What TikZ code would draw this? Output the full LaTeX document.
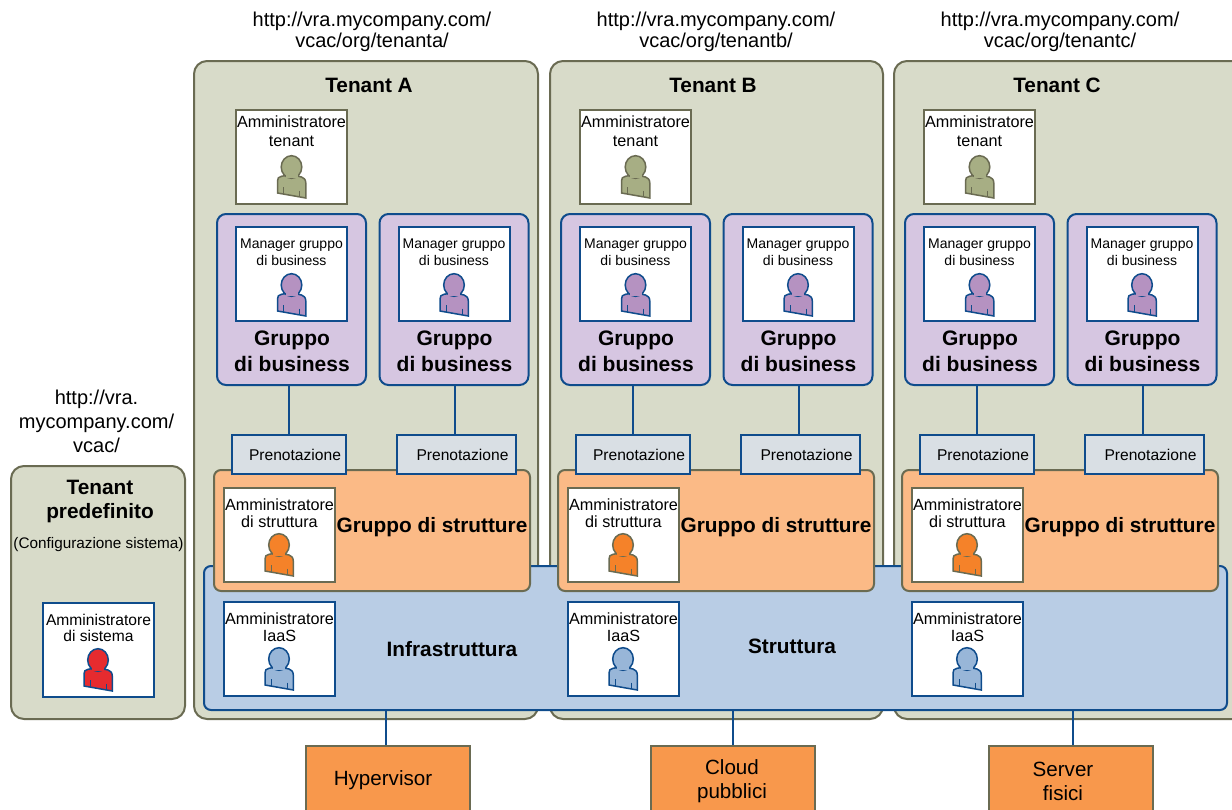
\documentclass[tikz,border=0pt]{standalone}
\usepackage{fontspec}
\setmainfont{Liberation Sans}
\usetikzlibrary{
  positioning,
  arrows
}
\definecolor{tenantfill}{HTML}{D8DBC9}
\definecolor{tenantline}{HTML}{6A6B52}
\definecolor{navyline}{HTML}{0F4C8C}
\definecolor{groupfill}{HTML}{D6C6E1}
\definecolor{resfill}{HTML}{D9DFE4}
\definecolor{facfill}{HTML}{FBBA86}
\definecolor{infrafill}{HTML}{B9CDE5}
\definecolor{hostfill}{HTML}{F8984C}
\definecolor{tenantperson}{HTML}{A7AE84}
\definecolor{mgrperson}{HTML}{B592C1}
\definecolor{facperson}{HTML}{F58229}
\definecolor{iaasperson}{HTML}{98B6D8}
\definecolor{sysperson}{HTML}{E62B2F}
\newcommand{\sizedfont}[2]{\fontsize{#1}{#2}\selectfont}
\tikzset{
  tenantbox/.style = {draw=tenantline, fill=tenantfill, line width=2pt, rounded corners=13pt},
  groupbox/.style = {draw=navyline, fill=groupfill, line width=2pt, rounded corners=9pt,
    minimum width=149pt, minimum height=171pt},
  facbox/.style = {draw=tenantline, fill=facfill, line width=2pt, rounded corners=7pt,
    minimum width=316pt, minimum height=121pt},
  infrabox/.style = {draw=navyline, fill=infrafill, line width=2pt, rounded corners=7pt},
  resbox/.style = {draw=navyline, fill=resfill, line width=2pt, minimum height=39pt,
    inner sep=0pt, font=\sizedfont{15.6}{18}},
  hostbox/.style = {draw=tenantline, fill=hostfill, line width=2pt, minimum width=164pt,
    minimum height=90pt},
  rolebox/.style = {draw=#1, fill=white, line width=2pt, minimum width=111pt, minimum height=94pt},
  roletext/.style = {anchor=north, align=center, inner sep=0pt, font=\sizedfont{16.2}{17.5}},
  mgrtext/.style = {anchor=north, align=center, inner sep=0pt, font=\sizedfont{14}{17}},
  titletext/.style = {align=center, inner sep=0pt, font=\sizedfont{20.8}{24}\bfseries},
  urltext/.style = {align=center, inner sep=0pt, font=\sizedfont{20}{21}},
  hosttext/.style = {align=center, inner sep=0pt, font=\sizedfont{20.6}{24}},
  navywire/.style = {draw=navyline, line width=2pt},
  person/.pic = {
    \path[draw=#1, line width=1.5pt, pic actions]
      (-6.7,7.7) -- (-10,8.3) .. controls (-13,9) and (-14,10) .. (-14,13) -- (-14,25) -- (14.3,30)
      -- (14.3,15) .. controls (14.3,11) and (12,10) .. (10,9) -- (6.7,8.3) -- cycle;
    \path[draw=#1, line width=1.5pt, pic actions] (0,-1) ellipse (10.3 and 11.3);
    \path[pic actions, draw=none] (-6,6) rectangle (6,10);
    \draw[#1, line width=.7pt] (-8,19) -- (-8,26) (8,22.7) -- (8,28.7);
  }
}

\begin{document}
\begin{tikzpicture}[x=1pt, y=-1pt]
  \useasboundingbox (0,0) rectangle (1232,809);
  \clip (0,0) rectangle (1232,809);

  % tenants behind everything
  \draw[tenantbox] (11,466) rectangle (185,719);
  \draw[tenantbox] (194,61) rectangle (538,719);
  \draw[tenantbox] (550,61) rectangle (883,719);
  \draw[tenantbox] (894,61) rectangle (1250,719);

  \draw[infrabox] (204,566) rectangle (1227,710);

  \node[hostbox, anchor=north] (hypervisor) at (388,745) {};
  \node[hostbox, anchor=north] (cloud) at (733,745) {};
  \node[hostbox, anchor=north] (server) at (1071,745) {};
  \coordinate (infrasouth) at (386,710);
  \draw[navywire] ([xshift=-2pt]hypervisor.north) -- (infrasouth);
  \draw[navywire] (cloud.north) -- (cloud.north |- infrasouth);
  \draw[navywire] ([xshift=2pt]server.north) -- ([xshift=2pt]server.north |- infrasouth);
  \node[hosttext] (hypertext) at (383,780) {Hypervisor};
  \node[hosttext] (cloudtext) at (732,781) {Cloud\\pubblici};
  \node[hosttext] (servertext) at (1063,781) {Server\\fisici\hspace{12pt}};

  \node[titletext] (infratext) at (452,649) {Infrastruttura};
  \node[titletext] (fabrictext) at (792,646) {Struttura};

  % default tenant
  \node[titletext] (deftitle) at (100,501.5) {Tenant\\predefinito};
  \node[mgrtext, font=\sizedfont{15.3}{17}] (defnote) at (98.5,537) {(Configurazione sistema)};
  \node[rolebox=navyline] (sysbox) at (98.5,650) {};
  \node[roletext, below=12pt of sysbox.north, anchor=north, font=\sizedfont{15.6}{16}] (systext) {Amministratore\\di sistema};
  \pic[fill=sysperson] at (98,661) {person=navyline};
  \node[urltext, font=\sizedfont{20}{24}] (defurl) at (96.5,421) {http://vra.\\mycompany.com/\\vcac/};

  % one scope for each tenant, same layout
  \foreach \tname/\tletter/\tshift in {a/A/0, b/B/344, c/C/688} {
    \begin{scope}[shift={(\tshift,0)}]
      \node[urltext] (url\tname) at (372,32) {http://vra.mycompany.com/\\vcac/org/tenant\tname/};
      \node[titletext] (title\tname) at (369,85) {Tenant \tletter};

      \node[rolebox=tenantline] (admin\tname) at (291.5,157) {};
      \node[roletext, below=7pt of admin\tname.north, anchor=north, font=\sizedfont{16.2}{19}] (admintext\tname) {Amministratore\\tenant};
      \pic[fill=tenantperson] at (291.5,168) {person=tenantline};

      \node[facbox] (fac\tname) at (372,530.5) {};
      \foreach \gid/\gx/\rx/\rw/\wx in {1/291.5/289/114/0, 2/454/456.5/119/-1.5} {
        \node[groupbox] (group\gid\tname) at (\gx,299.5) {};
        \node[rolebox=navyline] (mgr\gid\tname) at (\gx,274) {};
        \node[mgrtext, below=13pt of mgr\gid\tname.north, anchor=north] (mgrtext\gid\tname) {Manager gruppo\\di business};
        \pic[fill=mgrperson] at (\gx,286) {person=navyline};
        \node[titletext, font=\sizedfont{21}{26}\bfseries] (grouptext\gid\tname) at (\gx+0.5,351) {Gruppo\\di business};
        \node[resbox, minimum width=\rw pt] (res\gid\tname) at (\rx,454.5) {\hspace{12pt}Prenotazione};
        \draw[navywire] ([xshift=\wx pt]res\gid\tname.north) -- ([xshift=\wx pt]res\gid\tname.north |- group\gid\tname.south);
      }

      \node[rolebox=tenantline] (fadm\tname) at (279.5,534.5) {};
      \node[roletext, below=12pt of fadm\tname.north, anchor=north] (fadmtext\tname) {Amministratore\\di struttura};
      \pic[fill=facperson] at (279,546) {person=tenantline};
      \node[titletext] (factext\tname) at (432,527) {Gruppo di strutture};

      \node[rolebox=navyline] (iaas\tname) at (279.5,648.5) {};
      \node[roletext, below=12pt of iaas\tname.north, anchor=north] (iaastext\tname) {Amministratore\\IaaS};
      \pic[fill=iaasperson] at (279,660) {person=navyline};
    \end{scope}
  }
\end{tikzpicture}
\end{document}
